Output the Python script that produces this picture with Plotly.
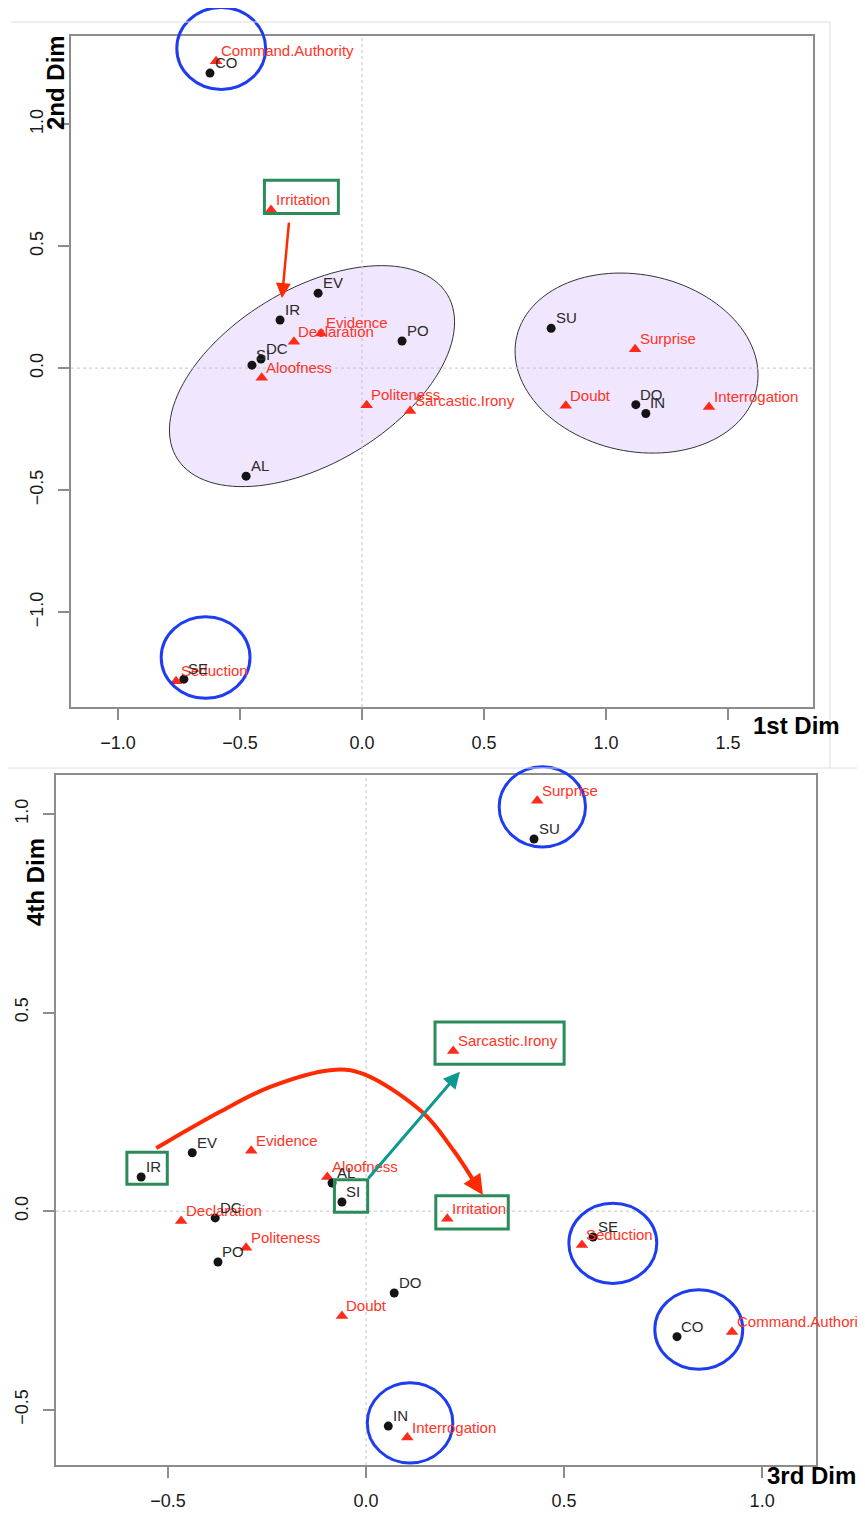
import numpy as np
import plotly.graph_objects as go

# ---------------- data ----------------
codes = ["AL", "CO", "DC", "DO", "EV", "IN", "IR", "PO", "SE", "SI", "SU"]
code_dim1 = [-0.475, -0.623, -0.414, 1.122, -0.180, 1.163, -0.336, 0.164, -0.730, -0.451, 0.775]
code_dim2 = [-0.443, 1.209, 0.037, -0.150, 0.307, -0.186, 0.197, 0.111, -1.275, 0.012, 0.163]
code_dim3 = [-0.086, 0.785, -0.381, 0.071, -0.439, 0.056, -0.568, -0.374, 0.573, -0.061, 0.424]
code_dim4 = [0.071, -0.316, -0.017, -0.206, 0.147, -0.541, 0.086, -0.128, -0.065, 0.023, 0.937]

categories = ["Aloofness", "Command.Authority", "Declaration", "Doubt", "Evidence",
              "Interrogation", "Irritation", "Politeness", "Seduction", "Sarcastic.Irony", "Surprise"]
cat_dim1 = [-0.411, -0.598, -0.279, 0.835, -0.168, 1.422, -0.373, 0.019, -0.762, 0.197, 1.119]
cat_dim2 = [-0.040, 1.258, 0.108, -0.154, 0.142, -0.159, 0.648, -0.152, -1.283, -0.176, 0.077]
cat_dim3 = [-0.098, 0.924, -0.467, -0.061, -0.290, 0.104, 0.205, -0.303, 0.545, 0.220, 0.432]
cat_dim4 = [0.086, -0.304, -0.025, -0.264, 0.152, -0.570, -0.019, -0.092, -0.085, 0.403, 1.033]

top_xticks = [-1.0, -0.5, 0.0, 0.5, 1.0, 1.5]
top_yticks = [-1.0, -0.5, 0.0, 0.5, 1.0]
bot_xticks = [-0.5, 0.0, 0.5, 1.0]
bot_yticks = [-0.5, 0.0, 0.5, 1.0]

# ---------------- style ----------------
PAGE_OFF = 8                      # default body margin of the html page
W, H = 865 - PAGE_OFF, 1515 - PAGE_OFF
FONT = "Liberation Sans, Arial, Helvetica, sans-serif"
RED = "#ff2a1a"
RED_TXT = "#ff3326"
DOT = "#141414"
CODE_TXT = "#2a2a2a"
BLUE = "#1e3cf0"
GREEN = "#2b8c5a"
TEAL = "#0e9890"
ARROW_RED = "#ff2a00"
AXC = "#8c8c8c"


def px_x(px):
    return (px - PAGE_OFF) / W


def px_y(py):
    return 1 - (py - PAGE_OFF) / H


TOP = dict(xr=(-1.1926, 1.848), yr=(-1.389, 1.361),
           xd=(px_x(71), px_x(813)), yd=(px_y(707), px_y(36)))
BOT = dict(xr=(-0.783, 1.136), yr=(-0.639, 1.098),
           xd=(px_x(56), px_x(816)), yd=(px_y(1465), px_y(775)))


def to_paper(p, x, y):
    fx = p["xd"][0] + (x - p["xr"][0]) / (p["xr"][1] - p["xr"][0]) * (p["xd"][1] - p["xd"][0])
    fy = p["yd"][0] + (y - p["yr"][0]) / (p["yr"][1] - p["yr"][0]) * (p["yd"][1] - p["yd"][0])
    return fx, fy


fig = go.Figure()

# points
for xs, ys, xa, ya in [(cat_dim1, cat_dim2, "x", "y"), (cat_dim3, cat_dim4, "x2", "y2")]:
    fig.add_trace(go.Scatter(x=xs, y=ys, mode="markers", xaxis=xa, yaxis=ya,
                             marker=dict(symbol="triangle-up", size=11, color=RED),
                             showlegend=False, hoverinfo="skip"))
for xs, ys, xa, ya in [(code_dim1, code_dim2, "x", "y"), (code_dim3, code_dim4, "x2", "y2")]:
    fig.add_trace(go.Scatter(x=xs, y=ys, mode="markers", xaxis=xa, yaxis=ya,
                             marker=dict(symbol="circle", size=9, color=DOT),
                             showlegend=False, hoverinfo="skip"))

annotations = []
# labels
for labels, xs, ys, xa, ya, col in [
    (categories, cat_dim1, cat_dim2, "x", "y", RED_TXT),
    (codes, code_dim1, code_dim2, "x", "y", CODE_TXT),
    (categories, cat_dim3, cat_dim4, "x2", "y2", RED_TXT),
    (codes, code_dim3, code_dim4, "x2", "y2", CODE_TXT),
]:
    for t, x, y in zip(labels, xs, ys):
        annotations.append(dict(text=t, x=x, y=y, xref=xa, yref=ya, showarrow=False,
                                xanchor="left", yanchor="middle", xshift=2.5, yshift=10.5,
                                font=dict(family=FONT, size=15, color=col)))

shapes = []


# ellipses (top panel)
def ellipse_path(cx, cy, a, b, ang_deg, n=120):
    t = np.linspace(0, 2 * np.pi, n)
    th = np.radians(ang_deg)
    xs = cx + a * np.cos(t) * np.cos(th) - b * np.sin(t) * np.sin(th)
    ys = cy + a * np.cos(t) * np.sin(th) + b * np.sin(t) * np.cos(th)
    return "M " + " L ".join(f"{x:.4f},{y:.4f}" for x, y in zip(xs, ys)) + " Z"


for cx, cy, a, b, ang in [(-0.205, -0.033, 0.6475, 0.3566, 31.1), (1.125, 0.0205, 0.503, 0.362, -11.8)]:
    shapes.append(dict(type="path", path=ellipse_path(cx, cy, a, b, ang), xref="x", yref="y",
                       fillcolor="rgb(240,230,254)", line=dict(color="#333333", width=1), layer="below"))

# dotted zero lines
for p, xa, ya in [(TOP, "x", "y"), (BOT, "x2", "y2")]:
    shapes.append(dict(type="line", xref=xa, yref=ya, x0=0, x1=0, y0=p["yr"][0], y1=p["yr"][1],
                       line=dict(color="#c4c4c4", width=1, dash="dot"), layer="below"))
    shapes.append(dict(type="line", xref=xa, yref=ya, y0=0, y1=0, x0=p["xr"][0], x1=p["xr"][1],
                       line=dict(color="#c4c4c4", width=1, dash="dot"), layer="below"))

# blue circles (centre x, centre y, rx, ry) in data units
for p, cx, cy, rx, ry in [
    (TOP, -0.577, 1.310, 0.182, 0.168),
    (TOP, -0.641, -1.186, 0.182, 0.167),
    (BOT, 0.445, 1.018, 0.109, 0.101),
    (BOT, 0.623, -0.081, 0.111, 0.101),
    (BOT, 0.840, -0.298, 0.111, 0.100),
    (BOT, 0.111, -0.533, 0.108, 0.101),
]:
    x0, y0 = to_paper(p, cx - rx, cy - ry)
    x1, y1 = to_paper(p, cx + rx, cy + ry)
    shapes.append(dict(type="circle", xref="paper", yref="paper", x0=x0, y0=y0, x1=x1, y1=y1,
                       line=dict(color=BLUE, width=3), layer="above"))

# green boxes
for p, bx0, bx1, by0, by1 in [
    (TOP, -0.400, -0.097, 0.634, 0.770),
    (BOT, -0.604, -0.502, 0.068, 0.148),
    (BOT, -0.080, 0.004, -0.003, 0.079),
    (BOT, 0.176, 0.359, -0.045, 0.039),
    (BOT, 0.174, 0.500, 0.370, 0.476),
]:
    x0, y0 = to_paper(p, bx0, by0)
    x1, y1 = to_paper(p, bx1, by1)
    shapes.append(dict(type="rect", xref="paper", yref="paper", x0=x0, y0=y0, x1=x1, y1=y1,
                       line=dict(color=GREEN, width=3), layer="above"))

# red curved arrow (bottom panel)
curve = [(-0.530, 0.159), (-0.369, 0.250), (-0.242, 0.313), (-0.091, 0.355), (0.010, 0.338),
         (0.141, 0.250), (0.220, 0.154), (0.270, 0.079)]
pts = [np.array(c) for c in curve]
path = f"M {pts[0][0]:.4f},{pts[0][1]:.4f}"
for i in range(len(pts) - 1):
    p0 = pts[i - 1] if i > 0 else pts[i]
    p1, p2 = pts[i], pts[i + 1]
    p3 = pts[i + 2] if i + 2 < len(pts) else pts[i + 1]
    c1 = p1 + (p2 - p0) / 6
    c2 = p2 - (p3 - p1) / 6
    path += f" C {c1[0]:.4f},{c1[1]:.4f} {c2[0]:.4f},{c2[1]:.4f} {p2[0]:.4f},{p2[1]:.4f}"
shapes.append(dict(type="path", path=path, xref="x2", yref="y2",
                   line=dict(color=ARROW_RED, width=4), layer="above"))

# arrows
annotations.append(dict(x=0.295, y=0.041, ax=0.270, ay=0.079, xref="x2", yref="y2",
                        axref="x2", ayref="y2", showarrow=True, arrowhead=2, arrowsize=1,
                        arrowwidth=4, arrowcolor=ARROW_RED, standoff=0, text=""))
annotations.append(dict(x=0.237, y=0.351, ax=0.0025, ay=0.079, xref="x2", yref="y2",
                        axref="x2", ayref="y2", showarrow=True, arrowhead=2, arrowsize=1.1,
                        arrowwidth=3, arrowcolor=TEAL, standoff=0, text=""))
annotations.append(dict(x=-0.328, y=0.287, ax=-0.299, ay=0.602, xref="x", yref="y",
                        axref="x", ayref="y", showarrow=True, arrowhead=2, arrowsize=1.2,
                        arrowwidth=2.5, arrowcolor=ARROW_RED, standoff=0, text=""))

# axis titles
title_font = dict(family=FONT, size=24, color="black", weight="bold")
annotations += [
    dict(text="1st Dim", xref="paper", yref="paper", x=px_x(751), y=px_y(725),
         xanchor="left", yanchor="middle", showarrow=False, font=title_font),
    dict(text="2nd Dim", xref="paper", yref="paper", x=px_x(56), y=px_y(83),
         xanchor="center", yanchor="middle", textangle=-90, showarrow=False, font=title_font),
    dict(text="3rd Dim", xref="paper", yref="paper", x=px_x(765), y=px_y(1475),
         xanchor="left", yanchor="middle", showarrow=False, font=title_font),
    dict(text="4th Dim", xref="paper", yref="paper", x=px_x(35), y=px_y(882),
         xanchor="center", yanchor="middle", textangle=-90, showarrow=False, font=title_font),
]

# faint outer frame of the upper picture
for x0, y0, x1, y1 in [(11, 22, 830, 22), (830, 22, 830, 768), (8, 768, 865, 768)]:
    shapes.append(dict(type="line", xref="paper", yref="paper", x0=px_x(x0), x1=px_x(x1),
                       y0=px_y(y0), y1=px_y(y1), line=dict(color="#dedede", width=1)))

axis_common = dict(showline=True, mirror=True, linecolor=AXC, linewidth=1.5, ticks="outside",
                   ticklen=11, tickwidth=1.5, tickcolor=AXC, showgrid=False, zeroline=False,
                   tickformat=".1f", tickfont=dict(family=FONT, size=18, color="#1a1a1a"),
                   fixedrange=True)

fig.update_layout(
    # extra right margin so the text running past the last panel edge is not cut early
    width=W + PAGE_OFF, height=H, margin=dict(l=0, r=PAGE_OFF, t=0, b=0),
    paper_bgcolor="white", plot_bgcolor="white", showlegend=False,
    xaxis=dict(axis_common, domain=TOP["xd"], range=TOP["xr"], tickvals=top_xticks, anchor="y",
               ticklabelstandoff=8),
    yaxis=dict(axis_common, domain=TOP["yd"], range=TOP["yr"], tickvals=top_yticks, anchor="x",
               tickangle=-90, ticklabelstandoff=8),
    xaxis2=dict(axis_common, domain=BOT["xd"], range=BOT["xr"], tickvals=bot_xticks, anchor="y2",
                ticklabelstandoff=8),
    yaxis2=dict(axis_common, domain=BOT["yd"], range=BOT["yr"], tickvals=bot_yticks, anchor="x2",
                tickangle=-90, ticklabelstandoff=8),
    shapes=shapes, annotations=annotations,
)

fig.write_html("out.html")
